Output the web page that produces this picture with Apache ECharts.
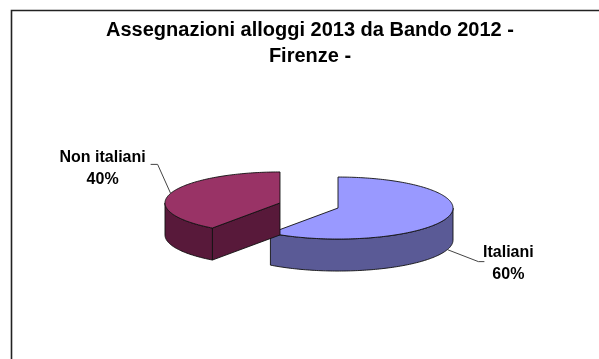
<!DOCTYPE html>
<html>
<head>
<meta charset="utf-8">
<script src="https://cdn.jsdelivr.net/npm/echarts@6/dist/echarts.min.js"></script>
<style>
html,body{margin:0;padding:0;background:#fff;}
#chart{width:599px;height:359px;}
</style>
</head>
<body>
<div id="chart"></div>
<script>
// ---- data ----
const titleLines = ['Assegnazioni alloggi 2013 da Bando 2012 -', 'Firenze -'];
const categories = ['Italiani', 'Non italiani'];
const values = [60, 40];

// ---- styles / layout (not data) ----
const topColors = ['#9999FF', '#993366'];
const sideColors = ['#5A5A96', '#58193A'];
const FONT = '"Liberation Sans", Arial, Helvetica, sans-serif';
const PIE = { cx: 309, cy: 205.5, a: 115, b: 31, h: 32, explode: 30.5 };
const labelLayout = [
  { text: [61, 14], elbow: [31, 12], end: [37, 12] },
  { text: [-68, -25], elbow: [-13, -29], end: [-20, -29] }
];

const total = values.reduce((s, v) => s + v, 0);

function renderItem(params, api) {
  const i = params.dataIndex;
  let before = 0;
  for (let k = 0; k < i; k++) before += values[k];
  const v = api.value(0);
  const s = before / total * 2 * Math.PI;
  const e = (before + v) / total * 2 * Math.PI;
  const m = (s + e) / 2;
  const X = PIE.cx + PIE.explode * Math.sin(m);
  const Y = PIE.cy - PIE.explode * (PIE.b / PIE.a) * Math.cos(m);
  const H = PIE.h;
  const pt = (t, dz) => [X + PIE.a * Math.sin(t), Y - PIE.b * Math.cos(t) + dz];
  const arc = (t1, t2, dz) => {
    const n = Math.max(2, Math.ceil(Math.abs(t2 - t1) / 0.02));
    const out = [];
    for (let j = 0; j <= n; j++) out.push(pt(t1 + (t2 - t1) * j / n, dz));
    return out;
  };
  const edge = { stroke: '#111', lineWidth: 0.9, lineJoin: 'round' };
  const children = [];
  // radial faces
  if (Math.sin(s) < -1e-6) {
    children.push({ type: 'polygon', shape: { points: [[X, Y], pt(s, 0), pt(s, H), [X, Y + H]] },
      style: Object.assign({ fill: sideColors[i] }, edge) });
  }
  if (Math.sin(e) > 1e-6) {
    children.push({ type: 'polygon', shape: { points: [[X, Y], pt(e, 0), pt(e, H), [X, Y + H]] },
      style: Object.assign({ fill: sideColors[i] }, edge) });
  }
  // outer visible rim
  const t1 = Math.max(s, Math.PI / 2), t2 = Math.min(e, 1.5 * Math.PI);
  if (t2 > t1) {
    children.push({ type: 'polygon', shape: { points: arc(t1, t2, 0).concat(arc(t2, t1, H)) },
      style: Object.assign({ fill: sideColors[i] }, edge) });
  }
  // top face
  children.push({ type: 'polygon', shape: { points: [[X, Y]].concat(arc(s, e, 0)) },
    style: Object.assign({ fill: topColors[i] }, edge) });
  // label + leader
  const P = Math.cos(m) < 0 ? pt(m, H) : pt(m, 0);
  const L = labelLayout[i];
  children.push({ type: 'polyline', shape: { points: [P, [P[0] + L.elbow[0], P[1] + L.elbow[1]], [P[0] + L.end[0], P[1] + L.end[1]]] },
    style: { stroke: '#444', lineWidth: 1, fill: null } });
  children.push({ type: 'text', x: P[0] + L.text[0], y: P[1] + L.text[1],
    style: { text: categories[i] + '\n' + Math.round(v / total * 100) + '%', align: 'center', verticalAlign: 'middle',
      fontSize: 16, fontWeight: 'bold', fontFamily: FONT, lineHeight: 22, fill: '#000' } });
  return { type: 'group', children: children };
}

const chart = echarts.init(document.getElementById('chart'), null, { renderer: 'canvas' });
chart.setOption({
  animation: false,
  backgroundColor: '#fff',
  title: {
    text: titleLines.join('\n'),
    left: 305, top: 12, textAlign: 'center',
    textStyle: { fontSize: 20, fontWeight: 'bold', fontFamily: FONT, color: '#000', lineHeight: 26 }
  },
  graphic: [{
    type: 'rect', left: 9, top: 8, shape: { width: 620, height: 380 },
    style: { fill: null, stroke: '#222', lineWidth: 1.6 }, silent: true
  }],
  series: [{
    type: 'custom',
    coordinateSystem: 'none',
    renderItem: renderItem,
    data: values.map((v, i) => ({ name: categories[i], value: v }))
  }]
});
</script>
</body>
</html>
